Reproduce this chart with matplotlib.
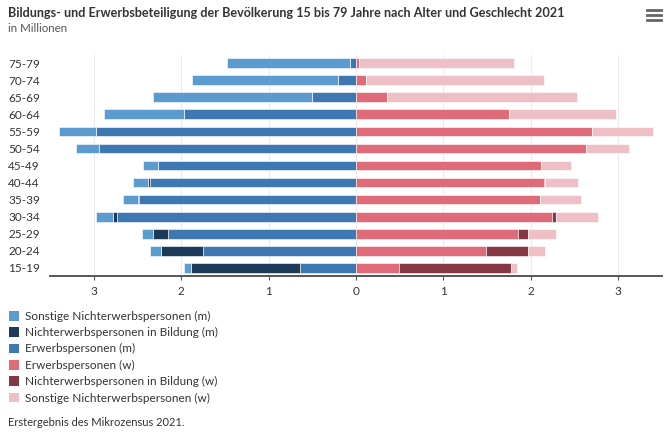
import matplotlib.pyplot as plt
from matplotlib.patches import Patch
from matplotlib.lines import Line2D

plt.rcParams["font.family"] = ["Lato", "DejaVu Sans"]

# age groups, bottom to top
ages = ["15-19", "20-24", "25-29", "30-34", "35-39", "40-44", "45-49",
        "50-54", "55-59", "60-64", "65-69", "70-74", "75-79"]

# men, in millions
erwerb_m = [0.64, 1.75, 2.15, 2.73, 2.48, 2.36, 2.26, 2.94, 2.97, 1.97, 0.50, 0.21, 0.07]
bildung_m = [1.25, 0.48, 0.17, 0.05, 0.01, 0.02, 0.0, 0.0, 0.0, 0.0, 0.0, 0.0, 0.0]
sonst_m = [0.08, 0.13, 0.13, 0.19, 0.17, 0.17, 0.18, 0.26, 0.43, 0.91, 1.82, 1.67, 1.41]

# women, in millions
erwerb_w = [0.49, 1.49, 1.85, 2.24, 2.10, 2.15, 2.12, 2.63, 2.70, 1.75, 0.36, 0.11, 0.04]
bildung_w = [1.28, 0.48, 0.12, 0.05, 0.01, 0.01, 0.0, 0.0, 0.0, 0.0, 0.0, 0.0, 0.0]
sonst_w = [0.07, 0.19, 0.32, 0.48, 0.46, 0.38, 0.34, 0.49, 0.70, 1.22, 2.17, 2.04, 1.77]

labels = ["Sonstige Nichterwerbspersonen (m)", "Nichterwerbspersonen in Bildung (m)",
          "Erwerbspersonen (m)", "Erwerbspersonen (w)",
          "Nichterwerbspersonen in Bildung (w)", "Sonstige Nichterwerbspersonen (w)"]
colors = ["#5b9bd0", "#1e3a5b", "#3d78b3", "#e06b78", "#853843", "#efbfc6"]

W, H = 665, 432
fig = plt.figure(figsize=(W / 100, H / 100), dpi=100)
ax = fig.add_axes([50 / W, 1 - 276 / H, 612 / W, 221 / H])

y = list(range(len(ages)))
h = 0.56
kw = dict(height=h, edgecolor="white", linewidth=0.4, zorder=3)

# men to the left
left_b = [-e for e in erwerb_m]
left_s = [-(e + b) for e, b in zip(erwerb_m, bildung_m)]
ax.barh(y, [-v for v in erwerb_m], color=colors[2], **kw)
ax.barh(y, [-v for v in bildung_m], left=left_b, color=colors[1], **kw)
ax.barh(y, [-v for v in sonst_m], left=left_s, color=colors[0], **kw)

# women to the right
right_b = erwerb_w
right_s = [e + b for e, b in zip(erwerb_w, bildung_w)]
ax.barh(y, erwerb_w, color=colors[3], **kw)
ax.barh(y, bildung_w, left=right_b, color=colors[4], **kw)
ax.barh(y, sonst_w, left=right_s, color=colors[5], **kw)

ax.set_xlim(-3.5, 3.5)
ax.set_ylim(-0.47, 12.47)
ax.set_xticks([-3, -2, -1, 0, 1, 2, 3])
ax.set_xticklabels(["3", "2", "1", "0", "1", "2", "3"])
ax.set_yticks(y)
ax.set_yticklabels(ages)
ax.grid(axis="x", color="#ebebeb", linewidth=0.8, zorder=0)
for s in ["top", "right", "left"]:
    ax.spines[s].set_visible(False)
ax.spines["bottom"].set_color("#555555")
ax.spines["bottom"].set_linewidth(1.4)
ax.tick_params(axis="y", length=0, pad=30, labelsize=8.5, labelcolor="#333333")
for t in ax.get_yticklabels():
    t.set_horizontalalignment("left")
ax.tick_params(axis="x", length=3, color="#555555", labelsize=8.5, labelcolor="#333333", pad=4)

fig.text(8 / W, 1 - 13 / H, "Bildungs- und Erwerbsbeteiligung der Bevölkerung 15 bis 79 Jahre nach Alter und Geschlecht 2021",
         fontsize=9.1, fontweight="bold", color="#333333", va="center")
fig.text(8 / W, 1 - 29 / H, "in Millionen", fontsize=8.3, color="#555555", va="center")

# hamburger icon
for yy in [10, 15, 20]:
    fig.add_artist(Line2D([647 / W, 661 / W], [1 - yy / H, 1 - yy / H], color="#666666", linewidth=2))

handles = [Patch(facecolor=c) for c in colors]
fig.legend(handles, labels, loc="upper left", bbox_to_anchor=(4 / W, 1 - 306 / H), frameon=False,
           fontsize=8.5, handlelength=0.9, handleheight=0.9, handletextpad=0.5, labelspacing=0.45,
           labelcolor="#333333", borderaxespad=0)

fig.text(8 / W, 1 - 422 / H, "Erstergebnis des Mikrozensus 2021.", fontsize=8, color="#333333", va="center")

fig.savefig("out.png", dpi=100)
